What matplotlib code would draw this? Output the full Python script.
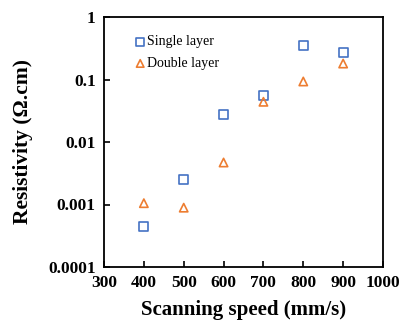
import matplotlib.pyplot as plt
from matplotlib.ticker import FixedLocator, FixedFormatter, NullLocator

# ── DATA ──
speed = [400, 500, 600, 700, 800, 900]
single_layer = [0.00044, 0.0025, 0.028, 0.055, 0.35, 0.275]
double_layer = [0.00105, 0.00089, 0.0047, 0.044, 0.093, 0.18]
y_ticks = [0.0001, 0.001, 0.01, 0.1, 1]
y_labels = ['0.0001', '0.001', '0.01', '0.1', '1']
x_ticks = [300, 400, 500, 600, 700, 800, 900, 1000]

BLUE = '#4472C4'
ORANGE = '#ED7D31'

plt.rcParams['font.family'] = ['Liberation Serif', 'DejaVu Serif']

fig = plt.figure(figsize=(4.02, 3.23), dpi=100)
ax = fig.add_axes([104 / 402, 1 - 267 / 323, 279 / 402, 250 / 323])

ax.scatter(speed, single_layer, marker='s', s=42, facecolors='none',
           edgecolors=BLUE, linewidths=1.2, label='Single layer')
ax.scatter(speed, double_layer, marker='^', s=36, facecolors='none',
           edgecolors=ORANGE, linewidths=1.2, label='Double layer')

ax.set_yscale('log')
ax.set_ylim(0.0001, 1)
ax.set_xlim(300, 1000)
ax.yaxis.set_major_locator(FixedLocator(y_ticks))
ax.yaxis.set_major_formatter(FixedFormatter(y_labels))
ax.yaxis.set_minor_locator(NullLocator())
ax.set_xticks(x_ticks)

ax.tick_params(direction='in', length=4, width=1.2, labelsize=12.5, pad=6)
for lab in ax.get_xticklabels() + ax.get_yticklabels():
    lab.set_fontweight('bold')
for sp in ax.spines.values():
    sp.set_linewidth(1.3)

ax.set_xlabel('Scanning speed (mm/s)', fontsize=15, fontweight='bold', labelpad=6)
ax.set_ylabel('Resistivity (Ω.cm)', fontsize=15.5, fontweight='bold', labelpad=11)

ax.legend(loc='upper left', bbox_to_anchor=(0.07, 0.965), frameon=False,
          fontsize=10, handletextpad=0.0, borderaxespad=0.3,
          labelspacing=0.62, handlelength=1.0, markerscale=0.9)

fig.savefig('out.png', dpi=100)
